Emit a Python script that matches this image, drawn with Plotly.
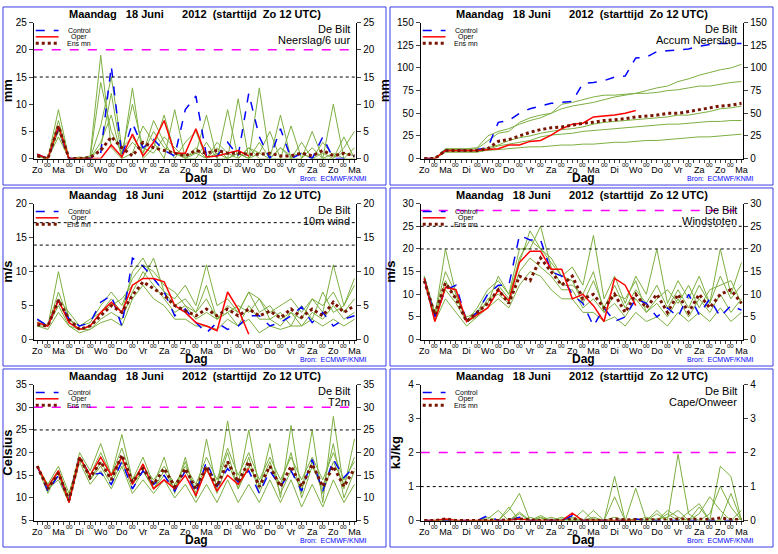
import plotly.graph_objects as go

W, H = 778, 554
hours = list(range(0, 361, 12))
day_hours = list(range(0, 361, 24))
mid_hours = list(range(12, 360, 24))
days = ["Zo", "Ma", "Di", "Wo", "Do", "Vr", "Za", "Zo", "Ma", "Di", "Wo", "Do", "Vr", "Za", "Zo", "Ma"]

# --- precipitation per 6 h
rain_ctrl = [0.8,0,5.5,0,0,0,1,17,0.5,6.5,2,3.5,1.5,0.5,9,11.5,0.5,0.5,3,0.5,12,4,0,5.5,0,1,0,4,0,0,0.5]
rain_oper = [0.8,0,6,0,0,0,0,2.5,0.3,4.5,0.5,3,7,1,1,5.5,0.3,0.5,1,1.5,0.5]
rain_mean = [0.5,0,6,0,0,0.2,1.5,4,2,0.5,3,2,1.5,1,0.5,1.5,1,1.5,1,1,0.8,0.8,1,0.5,0.5,1,0.5,1.5,0.5,1,0.5]
rain_mem = [
    [0.5,0,7,0,0,0,2,12,0.5,3,1,5,2,1,0.5,1,0,3,1,0,2,1,0,2,0.5,1,0,3,0.5,1,0.5],
    [0.8,0,5,0,0,0.2,14,5,1,10,2,1,4,2,0,1,8,0,0,1,0,3,0,0,6,0,2,0,1,0,0],
    [0.3,0,9,0,0,0.5,19,2,0,1,6,3,0,9,0,2,0,1,0,11,0,1,5,0,0,3,0,1,0,4,0],
    [0.6,0,4,0,0,0,3,8,0,13,0,2,8,1,0,0,3,0,9,0,2,0,0,8,0,1,0,0,10,0,2],
    [0.4,0,6,0,0.3,0,6,15,2,4,1,7,3,0,3,5,0,2,0,1,0,13,0,2,0,0,5,0,0,2,5],
]
# --- accumulated precipitation
acc_ctrl = [0,0,9,9,9,10,12,40,42,50,55,58,61,62,63,83,84,86,90,91,111,112,118,119,120,121,124,126,127,127,127]
acc_oper = [0,0,9,9,9,9,10,11,15,15,19,20,26,33,38,39,46,47,48,50,53]
acc_mean = [0,0,9,9,9,9,11,19,21,25,29,32,34,35,37,39,40,42,43,44,46,47,48,50,50,52,54,56,58,59,61]
acc_mem = [
    [0,0,10,10,10,11,20,28,30,40,45,48,50,55,58,60,62,65,68,70,72,75,78,80,85,88,92,95,98,100,104],
    [0,0,8,8,8,8,9,10,11,12,13,13,14,15,15,16,16,17,18,18,19,20,20,21,22,23,24,24,25,26,27],
    [0,0,11,11,11,12,25,30,33,38,42,45,50,60,62,65,68,70,70,71,72,72,73,75,76,78,80,80,82,84,85],
    [0,0,9,9,9,9,12,15,20,23,25,28,30,32,33,35,38,40,41,42,43,44,45,46,48,48,50,52,55,56,58],
    [0,0,7,7,7,7,10,14,16,18,20,24,26,27,28,30,31,32,33,34,35,36,37,38,38,39,40,41,41,42,42],
]
# --- 10 m wind
wind_ctrl = [3,2,5.8,3,2,2.5,5.5,6.5,2,12,10.8,9,7,3.5,4.5,2.5,1,2.5,1.5,2,3.5,3.5,2,2.5,3.5,4.8,2.5,4,2,3,3.5]
wind_oper = [2.5,2,5.8,2.5,1.5,2,4,5.5,4,8,9,9,8.5,5,4,2.5,2,1.3,7,4.5,0.8]
wind_mean = [2.2,2,5.8,3,1.5,2,3.5,5,4,6.5,8.5,7.5,6.5,5,4.2,3.5,4.5,3.5,4.5,3.5,4.5,3.5,4.2,3.2,4.5,3.3,4.5,3.5,5.5,4,5]
wind_mem = [
    [2.5,2,10,3,1.5,2,4,6,4,10,12,9,7,6,8,5,11,5,6,4,7,4,5,3,4,3,6,4,11,5,9],
    [2,2,5,2,1,1.5,2.5,3,2,6,8,6,5,3,3,2,2,1.5,3,2,3,1,2,1.5,2,2,3,2,3,2,3],
    [3,2,7,3,2,2.5,5,7,5,9,11,10,8,7,5,4,6,3,5,4,7,6,4,5,6,4,6,5,7,4,6],
    [2,1.5,4,2,1.5,1.5,3,4,3,7,10,8,6,4,5,3,4,3,4,2,5,3,3,2,4,2,4,3,5,3,4],
    [2.8,2,6,4,2,3,4,5,6,8,9,12,7,5,6,4,8,3,4,5,4,6,3,4,2,5,3,7,4,5,8],
]
# --- gusts
gust_ctrl = [13.5,5,11,12,4,6,10,12,12,23,22,22,15,14,10,8,3,7,4,5,9,8,5,7,5,10,5.5,9,5,7.5,6.5]
gust_oper = [13.5,4,11.5,11,4,5.5,7,11,8.5,17,19.5,19.5,15.5,15.5,9,10,7.5,4,13.5,12,7.5]
gust_mean = [13,5.5,12.5,9,4,6,8,11,8,14,13,18,15,12,14,9,10,7,10,6,10,7,10,6,10,6,10,7,10,11,8]
gust_mem = [
    [14,5,20,10,4,7,11,13,10,17,24,20,18,14,16,12,23,9,14,8,14,10,20,8,13,9,14,8,20,10,17],
    [13,4,9,6,3,5,7,9,7,12,15,14,11,9,9,6,6,4,5,3,6,4,5,3,6,4,6,4,7,4,6],
    [14,6,15,10,4,6,10,12,9,18,22,20,17,14,13,8,13,7,12,7,11,8,12,7,11,7,12,8,14,9,12],
    [13,5,11,8,4,5,9,10,8,15,18,16,14,11,11,7,9,6,8,5,9,6,8,5,9,5,9,6,10,6,9],
    [14,5,13,9,5,6,8,14,10,20,20,25,16,12,12,10,15,6,10,9,13,6,9,11,8,12,7,11,12,13,8],
]
# --- 2 m temperature
t2m_ctrl = [17,11.5,15,9.5,19,15,15.5,13,18,12,16,13,15,11.5,16,11,18,12.5,16.5,13.5,16,11,16,12.5,16,11.5,18.5,11.5,18.5,14.5,17]
t2m_oper = [17,12.5,16,9,19,15,19,15,19,13,17.5,12,14,12,15,10.5,16.5,11.5,15,13,16.5]
t2m_mean = [17,12,15.5,9.5,19,14.5,18,14,19.5,13.5,16.5,13,16.5,12.5,16.5,12,17,12.5,18,13.5,18,12.5,17,12.5,17,12.5,17.5,12.5,17,12.5,16.5]
t2m_mem = [
    [17,11,16,10,20,16,22,15,24,14,19,13,19,11,19,10,23,12,27,13,25,12,22,10,26,11,25,9,28,12,23],
    [17,12,14,9,18,13,16,12,17,11,14,11,14,10,13,9,13,9,14,9,13,9,14,9,14,8,13,8,14,9,13],
    [17,13,17,11,19,15,20,15,21,14,17,14,17,13,17,13,19,14,21,15,20,14,19,14,19,14,19,14,20,14,18],
    [17,12,15,9,19,14,18,14,19,13,16,12,16,12,16,12,17,11,18,12,17,13,18,11,16,12,18,11,18,13,19],
    [17,12,16,10,19,14,17,13,18,12,16,12,15,12,18,11,16,13,20,12,19,11,17,13,20,10,17,12,22,10,16],
]
# --- CAPE
cape_ctrl = [0,0,0,0,0,0,0.15,0,0,0.1,0,0,0,0,0.15,0,0,0,0,0,0.05,0,0,0,0,0,0,0,0,0,0]
cape_oper = [0,0,0.05,0,0,0,0,0,0,0.05,0,0,0,0,0.22,0,0,0,0,0,0]
cape_mean = [0,0,0.05,0,0,0,0.02,0,0.03,0.05,0.02,0,0.01,0,0.05,0.01,0.01,0,0.05,0.02,0.03,0.02,0.03,0.02,0.05,0.03,0.04,0.03,0.08,0.03,0.03]
cape_mem = [
    [0,0,0.05,0,0,0,0,0,0.3,0.8,0,0.1,0,0,0.1,0,0.3,0,1.3,0,0.05,0,0.2,0,0,0,0.4,0,1.6,1.3,0],
    [0,0,0,0,0,0,0.1,0,0,0.2,0,0.15,0,0.05,0,0,0,0,0.7,0,0.95,0,0,0.3,0.1,0,0.2,0.7,0.3,0,0.3],
    [0,0,0,0,0.02,0,0.05,0.3,0,0.05,0,0,0.1,0,0.05,0,0.05,0,0,0,0,0,0.3,0,1.95,0.2,0,0.2,1.0,0.4,0],
    [0,0,0.03,0,0,0,0,0,0,0.25,0,0.08,0,0.1,0,0,0.1,0,0.1,0,0.05,0,0.05,0.1,0.3,0,0,0,0,0.8,0],
    [0,0,0,0,0,0,0,0,0.4,0,0.1,0,0,0,0,0.3,0,0,0,0,0,0.1,0,0.2,0,0.25,0.5,0,0,0,0.05],
]

panels = [
    dict(name="Neerslag/6 uur", unit="mm", rng=[0, 25], dt=5, ctrl=rain_ctrl, oper=rain_oper, mean=rain_mean, mem=rain_mem, mag=[20], dot=[15]),
    dict(name="Accum Neerslag", unit="mm", rng=[0, 150], dt=25, ctrl=acc_ctrl, oper=acc_oper, mean=acc_mean, mem=acc_mem, mag=[], dot=[]),
    dict(name="10m wind", unit="m/s", rng=[0, 20], dt=5, ctrl=wind_ctrl, oper=wind_oper, mean=wind_mean, mem=wind_mem, mag=[], dot=[10.8, 13.9, 17.2]),
    dict(name="Windstoten", unit="m/s", rng=[0, 30], dt=5, ctrl=gust_ctrl, oper=gust_oper, mean=gust_mean, mem=gust_mem, mag=[28.5], dot=[20, 25]),
    dict(name="T2m", unit="Celsius", rng=[5, 35], dt=5, ctrl=t2m_ctrl, oper=t2m_oper, mean=t2m_mean, mem=t2m_mem, mag=[30], dot=[25]),
    dict(name="Cape/Onweer", unit="kJ/kg", rng=[0, 4], dt=1, ctrl=cape_ctrl, oper=cape_oper, mean=cape_mean, mem=cape_mem, mag=[2], dot=[1]),
]

def px(x):
    return x / W

def py(y):
    return 1 - y / H

def note(x, y, text, size, color="black", xa="center", xref="paper"):
    return dict(xref=xref, yref="paper", x=x if xref != "paper" else px(x), y=py(y), xanchor=xa,
                yanchor="middle", text=text, showarrow=False, font=dict(size=size, color=color))

green = "rgb(125,175,65)"
fig = go.Figure()
shapes, annots = [], []
for i, p in enumerate(panels):
    col, row = i % 2, i // 2
    ox = 0 if col == 0 else 390
    oy = [0, 185, 370][row]
    pl, pr, pt, pb = ox + 32, ox + 357, oy + 17, oy + 156
    n = i + 1
    xa, ya, ya2 = "x%d" % n, "y%d" % n, "y%d" % (n + 6)
    for m in p["mem"]:
        fig.add_trace(go.Scatter(x=hours, y=m, mode="lines", line=dict(color=green, width=1),
                                 xaxis=xa, yaxis=ya, showlegend=False, hoverinfo="skip"))
    fig.add_trace(go.Scatter(x=hours, y=p["ctrl"], mode="lines", line=dict(color="blue", width=1.5, dash="dash"),
                             xaxis=xa, yaxis=ya, showlegend=False))
    fig.add_trace(go.Scatter(x=hours[:len(p["oper"])], y=p["oper"], mode="lines", line=dict(color="red", width=1.5),
                             xaxis=xa, yaxis=ya, showlegend=False))
    fig.add_trace(go.Scatter(x=hours, y=p["mean"], mode="lines", line=dict(color="rgb(120,20,0)", width=3, dash="dot"),
                             xaxis=xa, yaxis=ya, showlegend=False))
    fig.add_trace(go.Scatter(x=[0], y=[p["rng"][0]], mode="markers", marker=dict(opacity=0),
                             xaxis=xa, yaxis=ya2, showlegend=False, hoverinfo="skip"))
    fig.layout["xaxis%d" % n] = dict(domain=[px(pl), px(pr)], anchor=ya, range=[-4, 362], tickvals=day_hours,
                                     ticktext=days, tickangle=0, ticks="outside", ticklen=3,
                                     showgrid=False, zeroline=False, showline=True, linecolor="black",
                                     tickfont=dict(size=9, color="black"),
                                     minor=dict(dtick=6, tick0=0, ticks="outside", ticklen=3))
    fig.layout["yaxis%d" % n] = dict(domain=[py(pb), py(pt)], anchor=xa, range=p["rng"], dtick=p["dt"],
                                     ticks="outside", ticklen=4, showgrid=False, zeroline=False, showline=True,
                                     linecolor="black", tickfont=dict(size=10, color="black"),
                                     title=dict(text="<b>%s</b>" % p["unit"], font=dict(size=13), standoff=4))
    fig.layout["yaxis%d" % (n + 6)] = dict(overlaying=ya, side="right", anchor=xa, range=p["rng"], dtick=p["dt"],
                                           ticks="outside", ticklen=4, showgrid=False, zeroline=False,
                                           showline=True, linecolor="black", tickfont=dict(size=10, color="black"))
    for h in mid_hours:
        annots.append(note(h, pb + 7, "00", 6, xref=xa))
    for v in p["mag"]:
        shapes.append(dict(type="line", xref=xa, yref=ya, x0=-4, x1=362, y0=v, y1=v,
                           line=dict(color="magenta", width=1.5, dash="dash")))
    for v in p["dot"]:
        shapes.append(dict(type="line", xref=xa, yref=ya, x0=-4, x1=362, y0=v, y1=v,
                           line=dict(color="black", width=1, dash="dot")))
    shapes.append(dict(type="rect", xref="paper", yref="paper", x0=px(ox + 1), x1=px(ox + 387),
                       y0=py(oy + 183), y1=py(oy + 1), line=dict(color="rgb(60,60,230)", width=1)))
    for k, (c, dsh, wd) in enumerate([("blue", "dash", 1.5), ("red", "solid", 1.5), ("rgb(120,20,0)", "dot", 3)]):
        yy = pt + 8 + 6.5 * k
        shapes.append(dict(type="line", xref="paper", yref="paper", x0=px(pl + 2), x1=px(pl + 25),
                           y0=py(yy), y1=py(yy), line=dict(color=c, width=wd, dash=dsh)))
    for k, t in enumerate(["Control", "Oper", "Ens mn"]):
        annots.append(note(pl + 46, pt + 8 + 6.5 * k, t, 7))
    annots.append(note(ox + 195, oy + 8, "<b>Maandag   18 Juni      2012  (starttijd  Zo 12 UTC)</b>", 11))
    annots.append(note(pr - 4, pt + 7, "De Bilt", 11, xa="right"))
    annots.append(note(pr - 4, pt + 18, p["name"], 11, xa="right"))
    annots.append(note(ox + 196, oy + 176, "<b>Dag</b>", 12))
    annots.append(note(ox + 370, oy + 176, "Bron:  ECMWF/KNMI", 7, color="blue", xa="right"))

fig.update_layout(width=W, height=H, margin=dict(l=0, r=0, t=0, b=0), plot_bgcolor="white",
                  paper_bgcolor="white", shapes=shapes, annotations=annots,
                  font=dict(family="Liberation Sans, Arial", color="black"), showlegend=False)
fig.write_html("out.html", config={"displayModeBar": False})

with open("out.html") as f:
    page = f.read()
page = page.replace("<body>", "<body style='margin:0'>", 1)
with open("out.html", "w") as f:
    f.write(page)
